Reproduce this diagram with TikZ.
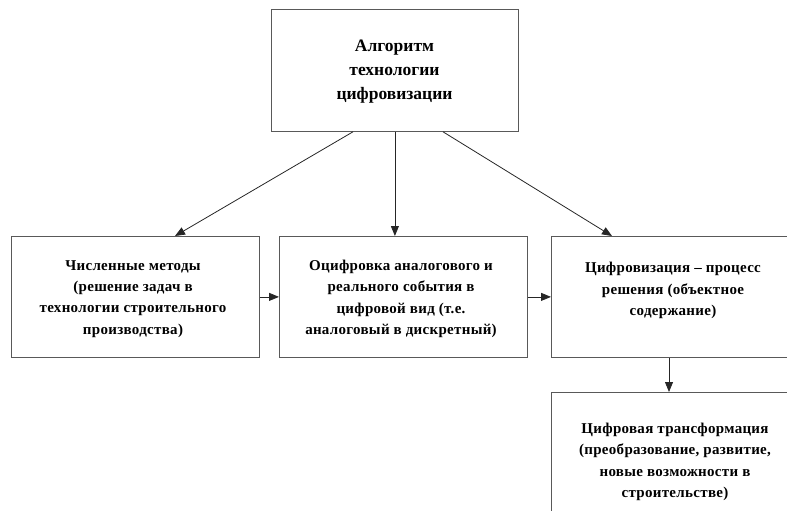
\documentclass[tikz,border=0pt]{standalone}
\usepackage{fontspec}
\setmainfont{Liberation Serif}
\newfontfamily\boxfont[LetterSpace=2]{Liberation Serif}
\usetikzlibrary{arrows.meta,calc}
\begin{document}
\begin{tikzpicture}[x=1pt,y=-1pt,
  box/.style={draw=black!65, line width=0.8pt, anchor=north west, inner sep=0pt, minimum width=#1},
  box/.default=248pt,
  lbl/.style={align=center, inner sep=0pt, font=\boxfont\bfseries\fontsize{15}{21.3}\selectfont},
  toplbl/.style={align=center, inner sep=0pt, font=\bfseries\fontsize{17.5}{24}\selectfont},
  conn/.style={draw=black!85, line width=0.8pt, -{Triangle[length=10pt,width=8pt]}}]
\useasboundingbox (0,0) rectangle (787,511);
\node[box=247pt, minimum height=122pt] (top) at (271,9) {};
\node[box, minimum height=121pt] (left) at (11,236) {};
\node[box, minimum height=121pt] (mid) at (279,236) {};
\node[box, minimum height=121pt] (right) at (551,236) {};
\node[box, minimum height=140pt] (bot) at (551,392) {};
\node[toplbl] (ttop) at (394.5,72) {Алгоритм\\технологии\\цифровизации};
\node[lbl] (tleft) at (133,299) {Численные методы\\(решение задач в\\технологии строительного\\производства)};
\node[lbl] (tmid) at (401,299) {Оцифровка аналогового и\\реального события в\\цифровой вид (т.е.\\аналоговый в дискретный)};
\node[lbl] (tright) at (673,290.5) {Цифровизация – процесс\\решения (объектное\\содержание)};
\node[lbl] (tbot) at (675,462) {Цифровая трансформация\\(преобразование, развитие,\\новые возможности в\\строительстве)};
\draw[conn] ($(top.south west)+(82,0)$) -- ($(left.north west)+(164,0)$);
\draw[conn] (top.south) -- (top.south |- mid.north);
\draw[conn] ($(top.south west)+(172,0)$) -- ($(right.north west)+(61,0)$);
\draw[conn] (left.east) -- (mid.west);
\draw[conn] (mid.east) -- (right.west);
\coordinate (rs) at ($(right.south west)+(118,0)$);
\draw[conn] (rs) -- (rs |- bot.north);
\end{tikzpicture}
\end{document}
